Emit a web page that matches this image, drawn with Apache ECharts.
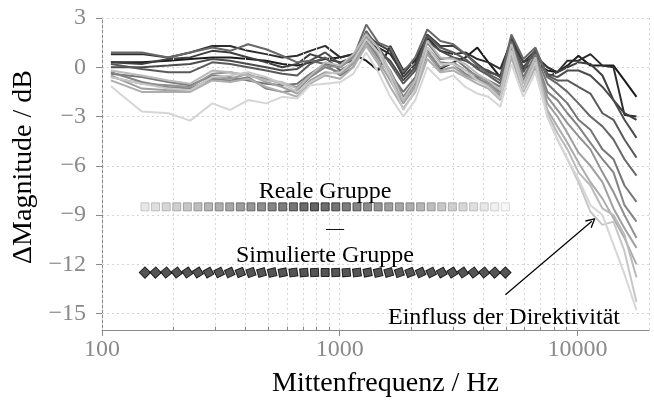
<!DOCTYPE html>
<html><head><meta charset="utf-8">
<script src="https://cdn.jsdelivr.net/npm/echarts@6/dist/echarts.min.js"></script>
<style>html,body{margin:0;padding:0;background:#fff}#chart{width:654px;height:403px}</style>
</head><body><div id="chart"></div>
<script>
// ---- data ----
const freqs = [109,147,190,235,291,346,412,490,573,662,751,869,1005,1140,1293,1453,1632,1851,2080,2336,2650,3006,3377,3793,4220,4740,5274,5925,6656,7476,8237,9077,10100,11340,12740,14180,15770,17720];

const line1 = [0.3,0.3,0.4,0.5,0.6,0.6,0.5,0.4,0.2,0.1, 0.3,0.5,0.6,0.8,0.4,-0.2,1.3,-0.2,0.4,1.0, -0.1,0.3,0.6,1.2,0.3,-0.6,0.5,-0.1,0.3,-0.2, -0.3,0.1,0.7,0.1,0.1,0.1,-0.8,-1.8];
const line2 = [0.8,0.8,0.6,0.9,1.3,1.3,1.0,0.8,0.6,0.7, 1.0,1.3,0.6,0.8,1.5,1.2,0.8,-0.4,0.5,1.8, 1.0,0.8,0.9,0.5,0.3,-0.1,1.6,0.3,0.7,0.0, -0.3,0.4,0.4,0.8,0.1,0.0,-2.9,-3.0];
const line3 = [0.3,0.2,0.5,0.6,1.0,0.9,0.6,0.3,0.0,0.2, 0.8,0.5,0.3,0.6,2.0,1.4,1.0,-0.6,0.2,2.0, 1.3,1.3,0.8,0.2,-0.3,-0.5,1.8,0.3,1.0,-0.6, -0.3,0.0,0.3,0.2,-0.5,-2.0,-2.8,-3.2];
const line4 = [0.0,0.0,0.1,0.2,0.5,0.4,0.2,0.0,-0.2,-0.1, 0.4,0.9,0.2,0.4,1.6,1.0,0.4,-0.8,0.0,1.6, 1.0,0.6,0.4,0.0,-0.2,-0.6,1.5,0.0,0.9,-0.4, -0.6,-0.2,-0.2,-0.5,-1.2,-2.0,-3.2,-4.3];
const line5 = [0.2,-0.1,-0.3,-0.3,0.3,0.2,0.0,-0.2,-0.4,-0.5, 0.2,0.6,-0.2,0.3,2.2,1.2,0.2,-1.0,-0.2,1.9, 1.2,0.9,0.5,-0.1,-0.5,-1.0,1.6,-0.3,1.1,-0.5, -0.8,-0.8,-1.2,-1.6,-2.8,-3.2,-4.4,-5.5];
const line6 = [0.9,0.9,0.6,0.9,1.2,1.0,1.4,1.1,0.7,0.3, 0.4,0.2,0.0,0.6,2.6,1.5,1.2,-0.3,0.6,2.3, 1.6,1.4,0.8,0.1,-0.4,-0.8,2.0,0.5,1.2,-0.6, -1.0,-1.5,-2.2,-3.0,-3.6,-4.4,-5.6,-6.6];
const line7 = [-0.4,-0.6,-0.9,-1.1,-0.5,-0.6,-0.8,-1.0,-1.1,-1.0, -0.4,0.2,-0.5,0.0,1.7,0.6,-0.4,-1.5,-0.6,1.5, 0.5,0.6,0.0,-0.6,-0.8,-1.2,1.5,-0.6,0.8,-1.0, -1.6,-2.2,-3.2,-3.8,-5.0,-5.6,-7.2,-8.2];
const line8 = [-0.3,-0.9,-1.2,-1.3,-0.7,-0.8,-0.6,-1.3,-1.5,-1.4, -0.6,0.0,-0.3,0.3,2.1,0.8,-0.2,-1.8,-0.8,1.2, 0.3,0.2,-0.4,-0.7,-1.0,-1.5,1.2,-0.8,0.6,-1.5, -2.0,-2.8,-3.6,-4.6,-5.6,-6.4,-8.4,-9.4];
const line9 = [-0.6,-1.0,-1.1,-1.2,-0.4,-0.3,-0.5,-0.7,-1.0,-1.2, -0.5,0.1,0.0,0.6,1.9,0.7,-0.5,-2.0,-1.0,1.0, 0.0,0.3,-0.2,-0.5,-0.9,-1.7,1.0,-1.0,0.4,-1.8, -2.6,-3.4,-4.2,-5.0,-6.4,-7.6,-9.0,-10.4];
const line10 = [-0.5,-1.3,-1.4,-1.4,-0.6,-0.7,-0.4,-0.9,-1.2,-1.6, -0.8,-0.3,-0.4,0.2,1.5,0.4,-0.8,-2.2,-1.2,0.8, -0.2,0.0,-0.5,-0.8,-1.1,-1.8,0.8,-1.3,0.2,-2.2, -3.0,-4.0,-5.2,-6.0,-7.0,-8.6,-9.8,-11.0];
const line11 = [-0.8,-1.5,-1.5,-1.5,-0.8,-0.9,-0.7,-1.2,-1.5,-1.8, -1.0,-0.5,-0.7,0.0,1.3,0.2,-1.2,-2.5,-1.5,0.5, -0.3,-0.2,-0.6,-1.0,-1.3,-2.0,0.6,-1.5,0.0,-2.6, -3.6,-4.6,-5.8,-7.0,-8.0,-9.2,-10.4,-12.0];
const line12 = [-0.2,-0.5,-0.8,-1.0,-0.2,-0.3,-0.5,-0.8,-0.9,-1.3, -0.5,0.3,0.1,0.8,2.0,1.2,-0.3,-2.0,-0.8,1.6, 0.6,0.5,0.2,-0.4,-0.8,-1.4,1.4,-1.0,0.6,-2.8, -4.0,-5.0,-6.4,-7.2,-8.6,-9.0,-10.2,-12.8];
const line13 = [-0.6,-1.0,-1.3,-1.4,-0.6,-0.5,-0.3,-0.6,-1.0,-1.5, -0.9,-0.4,-0.3,0.4,1.7,0.9,-0.6,-2.6,-1.4,1.2, 0.2,0.2,-0.2,-0.8,-1.2,-1.9,1.0,-1.4,0.3,-3.0, -4.4,-5.6,-7.0,-8.8,-9.6,-9.4,-11.2,-14.3];
const line14 = [-1.15,-2.7,-2.8,-3.25,-2.2,-2.6,-2.0,-2.2,-1.8,-1.9, -1.1,-1.0,-0.9,-0.4,0.9,-0.3,-1.8,-3.0,-2.0,0.0, -0.8,-0.5,-1.2,-1.6,-1.8,-2.4,0.2,-1.8,-0.3,-3.0, -4.4,-5.6,-6.8,-8.4,-9.0,-10.8,-12.6,-14.8];

const markerFreqs = [151.6,168.0,186.2,206.3,228.6,253.3,280.6,311.0,344.6,381.9,423.2,469.0,519.6,575.8,638.3,707.3,783.6,868.4,962.3,1066,1182,1310,1451,1608,1782,1975,2189,2425,2687,2977,3299,3656,4052,4489,4975];
const realGroupLevel = -8.5;
const simGroupLevel = -12.5;

const xGridValues = [100,200,300,400,500,600,700,800,900,1000,2000,3000,4000,5000,6000,7000,8000,9000,10000,20000];
const xMinorTicks = [200,300,400,500,600,700,800,900,2000,3000,4000,5000,6000,7000,8000,9000];
const xMajorTicks = [100,1000,10000];
const yTicks = [-15,-12,-9,-6,-3,0,3];
const yMin = -16, yMax = 3;

const arrowFrom = [4976, -13.85];
const arrowTo = [11500, -9.38];

// ---- styles ----
const FONT = '"Liberation Serif", "Times New Roman", serif';
const lines = [line1,line2,line3,line4,line5,line6,line7,line8,line9,line10,line11,line12,line13,line14];
const lineColors = ['#1c1c1c','#2e2e2e','#3e3e3e','#4c4c4c','#5a5a5a','#686868','#767676','#848484','#929292','#a0a0a0','#adadad','#bababa','#c7c7c7','#d6d6d6'];
const AX = '#8a8a8a';
const GRID = '#d6d6d6';

function grayHex(v){v=Math.max(0,Math.min(255,Math.round(v)));const h=v.toString(16).padStart(2,'0');return '#'+h+h+h;}

const series = [];
// vertical dotted grid lines and short minor ticks (helper series)
series.push({
  type: 'line', data: [], silent: true, animation: false, z: 1,
  markLine: {
    silent: true, animation: false, symbol: ['none', 'none'], label: { show: false },
    lineStyle: { color: GRID, width: 1, type: [2, 3] },
    data: xGridValues.map(v => ({ xAxis: v }))
  }
});
series.push({
  type: 'line', data: [], silent: true, animation: false, z: 1,
  markLine: {
    silent: true, animation: false, symbol: ['none', 'none'], label: { show: false },
    lineStyle: { color: AX, width: 1, type: 'solid' },
    data: xMinorTicks.map(v => [{ coord: [v, yMin] }, { coord: [v, yMin + 0.2] }])
  }
});

lines.forEach((vals, i) => series.push({
  type: 'line',
  data: freqs.map((f, j) => [f, vals[j]]),
  symbol: 'none',
  lineStyle: { color: lineColors[i], width: 2 },
  itemStyle: { color: lineColors[i] },
  z: 2 + i,
  silent: true,
  animation: false
}));

const centerIdx = 16;
series.push({
  type: 'scatter',
  data: markerFreqs.map((f, k) => {
    const d = Math.min(1, Math.abs(k - centerIdx) / 18);
    const g = 0x20 + d * (0xd8 - 0x20);
    return { value: [f, realGroupLevel], itemStyle: { color: grayHex(g + 30), borderColor: grayHex(g - 8), borderWidth: 1 } };
  }),
  symbol: 'rect', symbolSize: 8, z: 30, silent: true, animation: false
});
series.push({
  type: 'scatter',
  data: markerFreqs.map((f, k) => {
    const d = Math.min(1, Math.abs(k - 17) / 17);
    return { value: [f, simGroupLevel], symbolRotate: 45 * d };
  }),
  symbol: 'rect', symbolSize: 8,
  itemStyle: { color: '#2a2a2a', borderColor: '#000', borderWidth: 1 },
  z: 30, silent: true, animation: false
});
series.push({
  type: 'line', data: [], silent: true, animation: false,
  markLine: {
    silent: true, animation: false,
    symbol: ['none', 'path://M5,0 L10,9 L8.8,9.6 L5,2.6 L1.2,9.6 L0,9 Z'],
    symbolSize: [10, 10],
    label: { show: false },
    lineStyle: { color: '#000', width: 1.2, type: 'solid' },
    data: [[{ coord: arrowFrom }, { coord: arrowTo }]]
  }
});

const chart = echarts.init(document.getElementById('chart'), null, { renderer: 'canvas' });
chart.setOption({
  animation: false,
  backgroundColor: '#fff',
  grid: { left: 102, right: 5, top: 18, bottom: 65, containLabel: false },
  xAxis: {
    type: 'log', logBase: 10, min: 100, max: 20000,
    axisLine: { show: true, onZero: false, lineStyle: { color: AX, width: 1 } },
    axisTick: { show: true, customValues: xMajorTicks, length: 6, lineStyle: { color: AX } },
    axisLabel: { customValues: xMajorTicks, color: AX, fontSize: 24, fontFamily: FONT, margin: 8, formatter: v => String(Math.round(v)) },
    splitLine: { show: false },
    minorTick: { show: false }, minorSplitLine: { show: false },
    name: 'Mittenfrequenz / Hz', nameLocation: 'middle', nameGap: 40,
    nameTextStyle: { fontSize: 28, color: '#000', fontFamily: FONT, padding: [0, 0, 0, 20] }
  },
  yAxis: {
    type: 'value', min: yMin, max: yMax,
    axisLine: { show: true, onZero: false, lineStyle: { color: AX, width: 1 } },
    axisTick: { show: true, customValues: yTicks, length: 6, lineStyle: { color: AX } },
    axisLabel: { customValues: yTicks, color: AX, fontSize: 24, fontFamily: FONT, margin: 16, formatter: v => String(v).replace('-', '\u2212') },
    splitLine: { show: true, lineStyle: { color: GRID, type: [2, 3], width: 1 } },
    name: 'ΔMagnitude / dB', nameLocation: 'middle', nameGap: 64, nameRotate: 90,
    nameTextStyle: { fontSize: 28, color: '#000', fontFamily: FONT, padding: [0, 0, 0, 14] }
  },
  graphic: [
    { type: 'text', x: 325, y: 192, silent: true, z: 40, style: { text: 'Reale Gruppe', font: '24px "Liberation Serif"', fill: '#000', textAlign: 'center', textVerticalAlign: 'middle' } },
    { type: 'text', x: 335, y: 229, silent: true, z: 40, style: { text: '\u2014', font: '18px "Liberation Serif"', fill: '#000', textAlign: 'center', textVerticalAlign: 'middle' } },
    { type: 'text', x: 325, y: 256, silent: true, z: 40, style: { text: 'Simulierte Gruppe', font: '24px "Liberation Serif"', fill: '#000', textAlign: 'center', textVerticalAlign: 'middle' } },
    { type: 'text', x: 504, y: 318, silent: true, z: 40, style: { text: 'Einfluss der Direktivität', font: '24px "Liberation Serif"', fill: '#000', textAlign: 'center', textVerticalAlign: 'middle' } }
  ],
  series: series
});
</script></body></html>
